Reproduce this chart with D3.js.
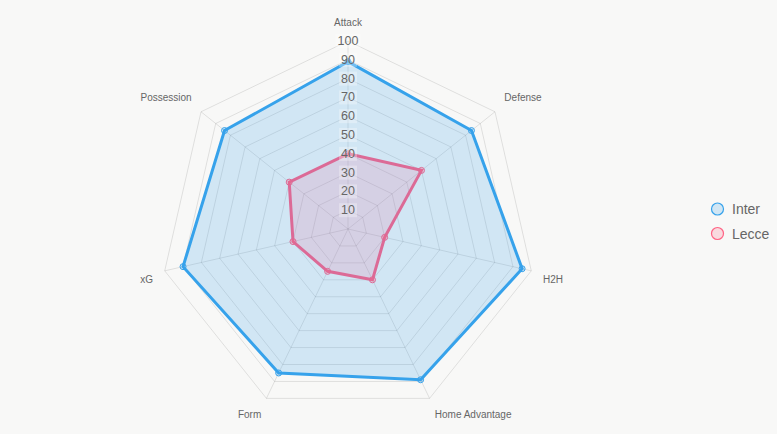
<!DOCTYPE html>
<html><head><meta charset="utf-8">
<script src="https://cdn.jsdelivr.net/npm/d3@7"></script>
<style>
html,body{margin:0;padding:0;background:#f8f8f7;}
svg{display:block;font-family:"Liberation Sans",Arial,Helvetica,sans-serif;}
</style></head>
<body><svg id="c" width="777" height="434"></svg>
<script>
const axes = ["Attack","Defense","H2H","Home Advantage","Form","xG","Possession"];
const interValues = [89,84,95,89,85,90,84];
const lecceValues = [40,50,20,30,25,30,40];
const tickValues = [10,20,30,40,50,60,70,80,90,100];
const seriesNames = ["Inter","Lecce"];

const series = [
  {name: seriesNames[0], values: interValues, stroke:"#36a2eb", fill:"rgba(54,162,235,0.2)", pfill:"rgba(54,162,235,0.2)"},
  {name: seriesNames[1], values: lecceValues, stroke:"#dc6a96", fill:"rgba(235,100,150,0.17)", pfill:"rgba(255,99,132,0.2)"}
];

const svg = d3.select("#c");
const cx = 348, cy = 229, R = 188;
const r = d3.scaleLinear().domain([0,100]).range([0,R]);
const ang = d3.scalePoint().domain(axes).range([0, 2*Math.PI*(axes.length-1)/axes.length]);
const pt = (a, v) => [cx + r(v)*Math.sin(ang(a)), cy - r(v)*Math.cos(ang(a))];

const g = svg.append("g");
tickValues.forEach(t => {
  g.append("polygon")
    .attr("points", axes.map(a => pt(a,t).join(",")).join(" "))
    .attr("fill","none").attr("stroke","rgba(0,0,0,0.1)").attr("stroke-width",1);
});
axes.forEach(a => {
  const p = pt(a,100);
  g.append("line").attr("x1",cx).attr("y1",cy).attr("x2",p[0]).attr("y2",p[1])
    .attr("stroke","rgba(0,0,0,0.1)").attr("stroke-width",1);
});

series.forEach(s => {
  const pts = axes.map((a,i) => pt(a, s.values[i]));
  g.append("polygon").attr("points", pts.map(p=>p.join(",")).join(" "))
    .attr("fill", s.fill).attr("stroke", s.stroke).attr("stroke-width",3).attr("stroke-linejoin","miter");
  g.selectAll(null).data(pts).enter().append("circle")
    .attr("cx",d=>d[0]).attr("cy",d=>d[1]).attr("r",3)
    .attr("fill", s.pfill).attr("stroke", s.stroke).attr("stroke-width",1);
});

tickValues.forEach(t => {
  const y = cy - r(t);
  const tx = g.append("text").attr("x",cx).attr("y",y).attr("text-anchor","middle")
    .attr("dominant-baseline","central").attr("font-size",12.5).attr("fill","#666").text(t);
  const bb = tx.node().getBBox();
  g.insert("rect", function(){return tx.node();})
    .attr("x",bb.x-2).attr("y",bb.y).attr("width",bb.width+4).attr("height",bb.height)
    .attr("fill","rgba(255,255,255,0.3)");
});

axes.forEach(a => {
  const A = ang(a);
  const d = R + 12;
  const x = cx + d*Math.sin(A), y = cy - d*Math.cos(A);
  const s = Math.sin(A), c = Math.cos(A);
  const anchor = Math.abs(s) < 0.05 ? "middle" : (s > 0 ? "start" : "end");
  const t = g.append("text").attr("x",x).attr("font-size",10).attr("fill","#666")
    .attr("text-anchor",anchor).text(a);
  if (c > 0.05) t.attr("y", y-3).attr("dominant-baseline","auto");
  else t.attr("y", y+2).attr("dominant-baseline","hanging");
});

const lg = svg.append("g");
series.forEach((s,i) => {
  const y = 209 + i*24.5;
  lg.append("circle").attr("cx",717.5).attr("cy",y).attr("r",6)
    .attr("fill", s.pfill).attr("stroke", i===0 ? "#36a2eb" : "#ff6384").attr("stroke-width",1.2);
  lg.append("text").attr("x",732).attr("y",y).attr("dominant-baseline","central")
    .attr("font-size",14).attr("fill","#666").text(s.name);
});
</script></body></html>
